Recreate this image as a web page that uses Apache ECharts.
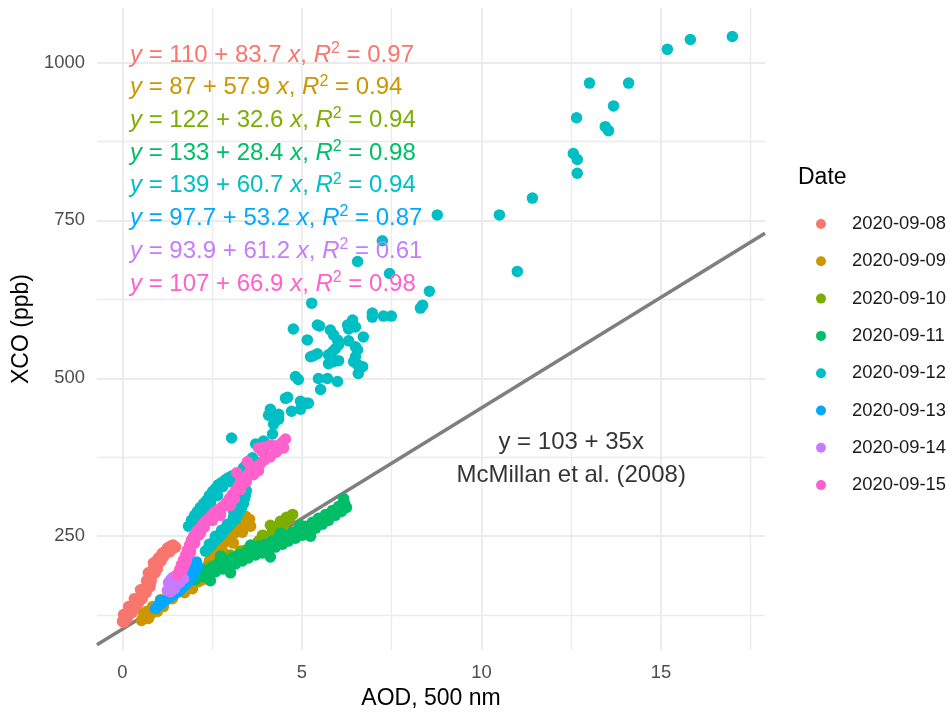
<!DOCTYPE html>
<html><head><meta charset="utf-8">
<script src="https://cdn.jsdelivr.net/npm/echarts@6/dist/echarts.min.js"></script>
<style>html,body{margin:0;padding:0;background:#fff}#c{width:949px;height:715px}</style>
</head><body><div id="c"></div>
<script>
// ---------- data ----------
const dates = ['2020-09-08','2020-09-09','2020-09-10','2020-09-11','2020-09-12','2020-09-13','2020-09-14','2020-09-15'];
const colors = ['#F8766D','#CD9600','#7CAE00','#00BE67','#00BFC4','#00A9FF','#C77CFF','#FF61CC'];

const d0908 = [[0.00,115.0],[0.06,119.7],[0.11,122.8],[0.03,126.0],[0.14,129.1],[0.20,132.3],[0.25,135.4],[0.17,138.5],[0.31,140.1],[0.36,143.2],[0.42,148.0],[0.33,151.1],[0.47,152.7],[0.53,157.4],[0.59,162.1],[0.50,165.2],[0.64,168.4],[0.70,173.1],[0.67,179.4],[0.75,182.5],[0.81,187.2],[0.72,191.9],[0.84,196.6],[0.89,201.3],[0.86,207.6],[0.95,210.8],[1.00,215.5],[1.06,218.6],[1.11,223.3],[1.20,226.4],[1.25,231.2],[1.34,234.3],[1.39,229.6],[1.31,224.9],[1.14,217.0],[0.98,204.5],[0.78,176.2],[0.61,160.5],[0.45,144.8],[0.22,127.6],[0.08,116.6],[1.48,232.7],
  [0.04,113.4],[0.13,119.7],[0.27,129.1],[0.38,138.5],[0.55,151.1],[0.66,160.5],[0.77,169.9],[0.80,179.4],[0.91,191.9],[0.97,198.2],[1.08,210.8],[1.16,220.2],[1.27,226.4],[1.41,235.9]];
const d0909 = [[0.53,116.6],[0.61,119.7],[0.70,122.8],[0.59,127.6],[0.67,130.7],[0.78,126.0],[0.86,130.7],[0.95,135.4],[0.84,138.5],[1.00,140.1],[1.09,143.2],[1.17,146.4],[1.06,149.5],[1.23,151.1],[1.34,155.8],[1.45,158.9],[1.56,162.1],[1.67,165.2],[1.78,168.4],[1.89,173.1],[2.01,176.2],[2.12,177.8],[2.23,180.9],[2.17,188.8],[2.28,195.1],[2.37,202.9],[2.42,210.8],[2.51,217.0],[2.59,223.3],[2.67,229.6],[2.76,235.9],[2.84,240.6],[2.95,246.9],[3.04,251.6],[3.12,254.7],[3.20,257.8],[3.29,262.6],[3.40,267.3],[3.48,272.0],[3.54,276.7],[3.43,281.4],[3.23,267.3],[2.90,243.7],[2.45,220.2],[2.06,185.6],[1.62,173.1],[1.28,157.4],[0.92,138.5],[3.09,239.0],[3.57,265.7],
  [0.72,119.7],[0.97,130.7],[1.14,138.5],[1.39,151.1],[1.73,160.5],[1.95,166.8],[2.31,184.1],[2.53,207.6],[2.79,226.4],[3.01,242.2],[3.34,256.3]];
const d0910 = [[2.17,196.6],[2.45,202.9],[2.73,210.8],[3.01,220.2],[3.29,226.4],[3.57,234.3],[3.79,242.2],[3.98,250.0],[4.18,256.3],[4.35,262.6],[4.51,268.8],[4.65,276.7],[4.74,284.5],[4.57,279.8],[3.90,251.6],[3.43,228.0],[2.87,207.6],[2.31,191.9],[4.12,267.3],[4.40,273.5]];
const d0911 = [[2.03,180.9],[2.12,191.9],[2.23,185.6],[2.31,196.6],[2.40,190.3],[2.51,201.3],[2.59,193.5],[2.67,207.6],[2.79,198.2],[2.87,210.8],[2.95,202.9],[3.06,215.5],[3.15,206.0],[3.23,220.2],[3.34,210.8],[3.43,224.9],[3.51,215.5],[3.62,229.6],[3.71,220.2],[3.79,234.3],[3.90,223.3],[3.98,237.4],[4.07,228.0],[4.18,242.2],[4.26,232.7],[4.35,246.9],[4.46,237.4],[4.54,251.6],[4.62,242.2],[4.74,256.3],[4.82,246.9],[4.90,261.0],[5.01,251.6],[5.10,265.7],[5.18,256.3],[5.29,272.0],[5.38,262.6],[5.46,278.3],[5.57,268.8],[5.66,284.5],[5.74,275.1],[5.85,290.8],[5.93,283.0],[6.02,297.1],[6.10,289.2],[6.18,303.4],[6.24,295.5],[6.16,309.7],[2.73,218.6],[3.57,235.9],[4.40,254.7],[4.96,267.3],[4.12,217.0],[3.01,191.9],[2.45,179.4],[5.24,250.0],
  [2.17,188.8],[2.45,196.6],[2.73,206.0],[3.01,212.3],[3.29,218.6],[3.57,226.4],[3.84,231.2],[4.12,239.0],[4.40,245.3],[4.68,251.6],[4.96,257.8],[5.24,265.7],[5.52,273.5],[5.79,283.0],[6.07,294.0]];
const d0912 = [[1.84,265.7],[1.92,275.1],[2.01,283.0],[2.09,289.2],[2.17,295.5],[2.26,301.8],[2.34,306.5],[2.42,314.4],[2.51,320.6],[2.59,325.4],[2.67,331.6],[2.76,334.8],[2.87,339.5],[2.95,342.6],[3.06,345.8],[3.18,348.9],[3.29,350.5],[3.37,358.3],[3.45,363.0],[3.54,369.3],[3.62,374.0],[2.06,273.5],[2.26,287.7],[2.45,298.7],[2.65,314.4],
  [1.98,268.8],[2.12,279.8],[2.28,292.4],[2.45,304.9],[2.62,317.5],[2.79,328.5],[2.98,336.3],[3.18,342.6],[3.40,352.0],[3.57,361.5],[3.71,367.7],
  [2.31,226.4],[2.40,231.2],[2.48,235.9],[2.56,242.2],[2.65,246.9],[2.73,251.6],[2.81,256.3],[2.90,262.6],[2.98,267.3],[3.06,272.0],[3.15,276.7],[3.20,283.0],[3.26,289.2],[3.32,295.5],[3.37,301.8],[3.40,309.7],[3.43,315.9],[3.29,306.5],[3.09,290.8],
  [2.42,237.4],[2.59,250.0],[2.76,259.4],[2.92,268.8],[3.09,279.8],[3.23,294.0],[3.34,308.1],[3.45,322.2],[3.40,330.1],[3.29,323.8],
  [3.04,405.4],[3.71,396.0],[3.93,400.7],[4.18,411.7],[4.21,427.4],[4.35,435.2],[4.07,441.5],[4.12,450.9],[4.35,443.1],[4.54,468.2],[4.71,447.8],[4.96,463.5],[5.13,460.4],[4.96,450.9],[5.18,460.4],[4.60,469.8],
  [4.82,502.8],[4.90,498.0],[5.46,499.6],[5.71,499.6],[5.52,482.3],[5.99,494.9],[5.74,523.2],[5.88,526.3],[6.02,527.9],[6.49,534.1],[6.44,526.3],[6.55,521.6],[6.69,518.4],[6.57,507.5],[5.43,538.9],[5.32,535.7],[5.24,534.1],[5.74,537.3],[5.85,542.0],[5.99,560.8],[6.02,553.0],[5.93,546.7],[6.30,559.3],[6.49,549.8],[6.55,545.1],[5.15,560.8],[6.71,565.5],[5.79,576.5],[5.88,568.7],[6.41,592.2],[6.49,581.2],[6.30,578.1],[6.27,584.4],[5.43,584.4],[5.49,582.8],[4.76,578.1],[5.27,618.9],[6.96,603.2],[6.96,596.9],[7.27,598.5],[7.49,598.5],
  [6.55,684.9],[7.24,717.8],[7.44,666.0],[8.55,637.8],[8.36,615.8],[8.30,611.1],[8.77,758.7],[10.50,758.7],[11.42,785.3],[11.00,669.2],[12.56,856.0],[12.67,846.6],[12.67,824.6],[12.65,912.5],[13.45,898.4],[13.54,892.1],[13.68,931.3],[13.01,967.4],[14.10,967.4],[15.18,1020.8],[15.82,1036.5],[16.99,1041.2]];
const d0913 = [[0.92,135.4],[1.00,140.1],[1.09,143.2],[1.17,148.0],[1.25,151.1],[1.34,154.2],[1.42,157.4],[1.50,160.5],[1.59,163.7],[1.67,168.4],[1.76,173.1],[1.84,177.8],[1.92,184.1],[1.98,190.3],[2.03,196.6],[2.09,202.9],[2.06,209.2],[1.95,198.2],[1.78,182.5],[1.56,169.9],[1.28,157.4],[1.06,148.0],[1.87,191.9]];
const d0914 = [[1.25,163.7],[1.31,169.9],[1.28,176.2],[1.34,180.9],[1.39,184.1],[1.48,187.2],[1.56,188.8],[1.64,185.6],[1.70,182.5],[1.50,179.4],[1.39,173.1],[1.59,176.2],[1.45,166.8],[1.34,162.1]];
const d0915 = [[1.53,188.8],[1.59,196.6],[1.64,204.5],[1.70,212.3],[1.76,220.2],[1.81,228.0],[1.87,235.9],[1.92,243.7],[1.98,250.0],[2.06,257.8],[2.15,262.6],[2.23,268.8],[2.31,273.5],[2.40,278.3],[2.48,283.0],[2.56,287.7],[2.67,292.4],[2.79,297.1],[2.90,303.4],[2.98,309.7],[3.06,315.9],[3.15,322.2],[3.23,330.1],[3.32,336.3],[3.40,342.6],[3.51,348.9],[3.62,355.2],[3.73,359.9],[3.84,364.6],[3.96,370.9],[4.01,377.2],[3.90,383.4],[3.79,389.7],[3.96,391.3],[4.12,394.4],[4.23,392.9],[4.35,394.4],[4.46,399.1],[4.54,403.9],[4.49,389.7],[4.29,383.4],[4.12,375.6],[3.57,361.5],[3.29,341.1],[3.01,298.7],[2.73,283.0],[2.45,275.1],[2.17,254.7],[1.89,228.0],[1.73,204.5],[3.48,367.7],[3.18,350.5],
  [1.67,196.6],[1.78,210.8],[1.89,223.3],[2.01,239.0],[2.12,251.6],[2.28,264.1],[2.51,275.1],[2.73,287.7],[2.95,298.7],[3.12,309.7],[3.29,323.8],[3.45,336.3],[3.65,347.3],[3.79,353.6]];
const seriesData = [d0908,d0909,d0910,d0911,d0912,d0913,d0914,d0915];

const eqIntercept = ['110','87','122','133','139','97.7','93.9','107'];
const eqSlope = ['83.7','57.9','32.6','28.4','60.7','53.2','61.2','66.9'];
const eqR2 = ['0.97','0.94','0.94','0.98','0.94','0.87','0.61','0.98'];

const refIntercept = 103, refSlope = 35;
const refLabel = 'y = 103 + 35x\nMcMillan et al. (2008)';
const refLabelPos = [12.5, 372];

const xTicks = [0,5,10,15];
const xMinor = [2.5,7.5,12.5,17.5];
const yTicks = [250,500,750,1000];
const yMinor = [125,375,625,875];
const xRange = [-0.71, 17.9];
const yRange = [69.6, 1086.3];

// ---------- chart ----------
const FONT = '"Liberation Sans", Arial, Helvetica, sans-serif';
const chart = echarts.init(document.getElementById('c'), null, {renderer:'canvas'});

const gridLineData = [];
xTicks.forEach(v => gridLineData.push({xAxis:v, lineStyle:{width:1.8}}));
xMinor.forEach(v => gridLineData.push({xAxis:v, lineStyle:{width:1.3}}));
yTicks.forEach(v => gridLineData.push({yAxis:v, lineStyle:{width:1.8}}));
yMinor.forEach(v => gridLineData.push({yAxis:v, lineStyle:{width:1.3}}));

const series = [
  {
    type:'line', name:'grid', data:[], z:0, silent:true,
    markLine:{z:0, silent:true, symbol:['none','none'], animation:false,
      label:{show:false}, lineStyle:{color:'#ebebeb', type:'solid'}, emphasis:{disabled:true},
      data: gridLineData}
  },
  {
    type:'line', name:'ref', z:1, silent:true, symbol:'none',
    data: xRange.map(x => [x, refIntercept + refSlope*x]),
    lineStyle:{color:'#7f7f7f', width:3.6}
  }
];
dates.forEach((d,i) => series.push({
  type:'scatter', name:d, data:seriesData[i], symbolSize:11.5, z:2,
  itemStyle:{color:colors[i], opacity:1}, emphasis:{disabled:true}
}));
series.push({
  type:'scatter', name:'refLabel', z:3, silent:true, symbolSize:0,
  data:[refLabelPos],
  label:{show:true, position:'inside', formatter:refLabel, color:'#000', fontSize:24, lineHeight:33, fontFamily:FONT, align:'center', verticalAlign:'middle'}
});

const graphics = [];
dates.forEach((d,i) => {
  graphics.push({
    type:'text', x:130, y:55 + i*32.7, z:100, silent:true,
    style:{
      text:'{i|y} = ' + eqIntercept[i] + ' + ' + eqSlope[i] + ' {i|x}, {i|R}{s|2} = ' + eqR2[i],
      fill:colors[i], fontSize:24, fontFamily:FONT, verticalAlign:'middle', align:'left',
      rich:{
        i:{fontStyle:'italic', fontSize:24, fontFamily:FONT, fill:colors[i], color:colors[i]},
        s:{fontSize:16, fontFamily:FONT, verticalAlign:'top', fill:colors[i], color:colors[i], padding:[0,0,13,0]}
      }
    }
  });
});
graphics.push({type:'text', x:798, y:178, silent:true,
  style:{text:'Date', fill:'#000', fontSize:23, fontFamily:FONT, verticalAlign:'middle', align:'left'}});

chart.setOption({
  animation:false,
  backgroundColor:'#fff',
  grid:{left:97, right:184, top:8, bottom:59, containLabel:false},
  xAxis:{type:'value', min:xRange[0], max:xRange[1],
    axisLine:{show:false}, axisTick:{show:false}, splitLine:{show:false},
    axisLabel:{customValues:xTicks, fontSize:18.4, color:'#4d4d4d', fontFamily:FONT, margin:14},
    name:'AOD, 500 nm', nameLocation:'middle', nameGap:34,
    nameTextStyle:{fontSize:23, color:'#000', fontFamily:FONT}},
  yAxis:{type:'value', min:yRange[0], max:yRange[1],
    axisLine:{show:false}, axisTick:{show:false}, splitLine:{show:false},
    axisLabel:{customValues:yTicks, formatter:v => String(v), fontSize:18.4, color:'#4d4d4d', fontFamily:FONT, margin:12},
    name:'XCO (ppb)', nameLocation:'middle', nameGap:53,
    nameTextStyle:{fontSize:23, color:'#000', fontFamily:FONT}},
  legend:{orient:'vertical', left:811, top:209, itemWidth:10, itemHeight:10, itemGap:17.3,
    icon:'circle', data:dates, selectedMode:false,
    textStyle:{fontSize:18.4, color:'#1a1a1a', fontFamily:FONT, lineHeight:20, padding:[0,0,0,21]}},
  graphic:graphics,
  series:series
});
</script></body></html>
